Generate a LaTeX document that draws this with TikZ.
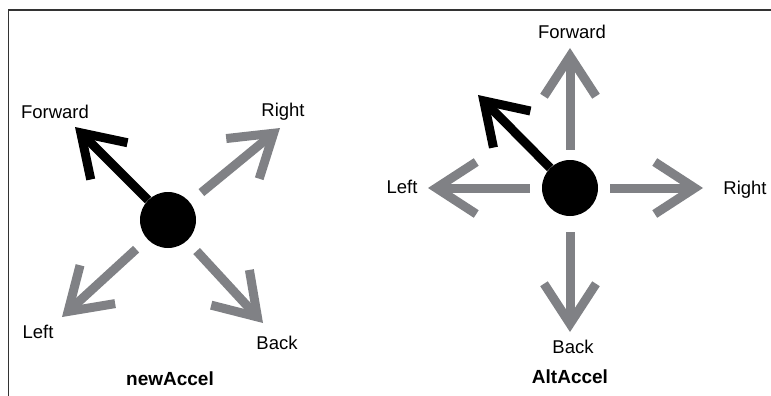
\documentclass[tikz,border=0pt]{standalone}
\usepackage{fontspec}
\setmainfont{Liberation Sans}
\usetikzlibrary{arrows.meta}
\definecolor{arrowgray}{RGB}{128,129,133}

\begin{document}
\begin{tikzpicture}[x=1pt, y=-1pt,
    dot/.style={circle, fill=black, minimum size=56pt, inner sep=0pt},
    lbl/.style={font=\fontsize{18.5}{22}\selectfont, inner sep=1pt},
    title/.style={font=\fontsize{19}{22}\selectfont\bfseries, inner sep=1pt},
    tip/.style={-{Straight Barb[sharp, length=40pt, width=52pt]}, line width=9pt, line cap=butt},
    garr/.style={tip, arrowgray},
    barr/.style={tip, black}
    ]
    \useasboundingbox (0,0) rectangle (771,396);
    \draw[line width=1.5pt, black!80] (8.5,396) -- (8.5,10) -- (771,10);

    % newAccel
    \node[dot] (dotA) at (168,220) {};
    \coordinate (fwdA) at (75,127);
    \coordinate (rgtA) at (280,128);
    \coordinate (lftA) at (62,317);
    \coordinate (bckA) at (263,323);
    \draw[barr] (dotA) -- (fwdA);
    \draw[garr, shorten <=15pt] (dotA) -- (rgtA);
    \draw[garr, shorten <=15pt] (dotA) -- (lftA);
    \draw[garr, shorten <=14pt] (dotA) -- (bckA);
    \node[lbl] (fwdlblA) at (55,112) {Forward};
    \node[lbl] (rgtlblA) at (283,112) {Right};
    \node[lbl] (lftlblA) at (38,332) {Left};
    \node[lbl] (bcklblA) at (277,343) {Back};
    \node[title] (nameA) at (170,379) {newAccel};

    % AltAccel
    \node[dot] (dotB) at (570,188) {};
    \coordinate (fwdB) at (570,48);
    \coordinate (lftB) at (428,188);
    \coordinate (rgtB) at (703,188);
    \coordinate (bckB) at (570,332);
    \coordinate (dirB) at (478,95);
    \draw[barr] (dotB) -- (dirB);
    \draw[garr, shorten <=10pt] (dotB) -- (fwdB);
    \draw[garr, shorten <=12pt] (dotB) -- (lftB);
    \draw[garr, shorten <=12pt] (dotB) -- (rgtB);
    \draw[garr, shorten <=16pt] (dotB) -- (bckB);
    \node[lbl] (fwdlblB) at (572,32) {Forward};
    \node[lbl] (lftlblB) at (402,187) {Left};
    \node[lbl] (rgtlblB) at (745,190) {Right};
    \node[lbl] (bcklblB) at (573,347) {Back};
    \node[title] (nameB) at (570,377) {AltAccel};
  \end{tikzpicture}
\end{document}
